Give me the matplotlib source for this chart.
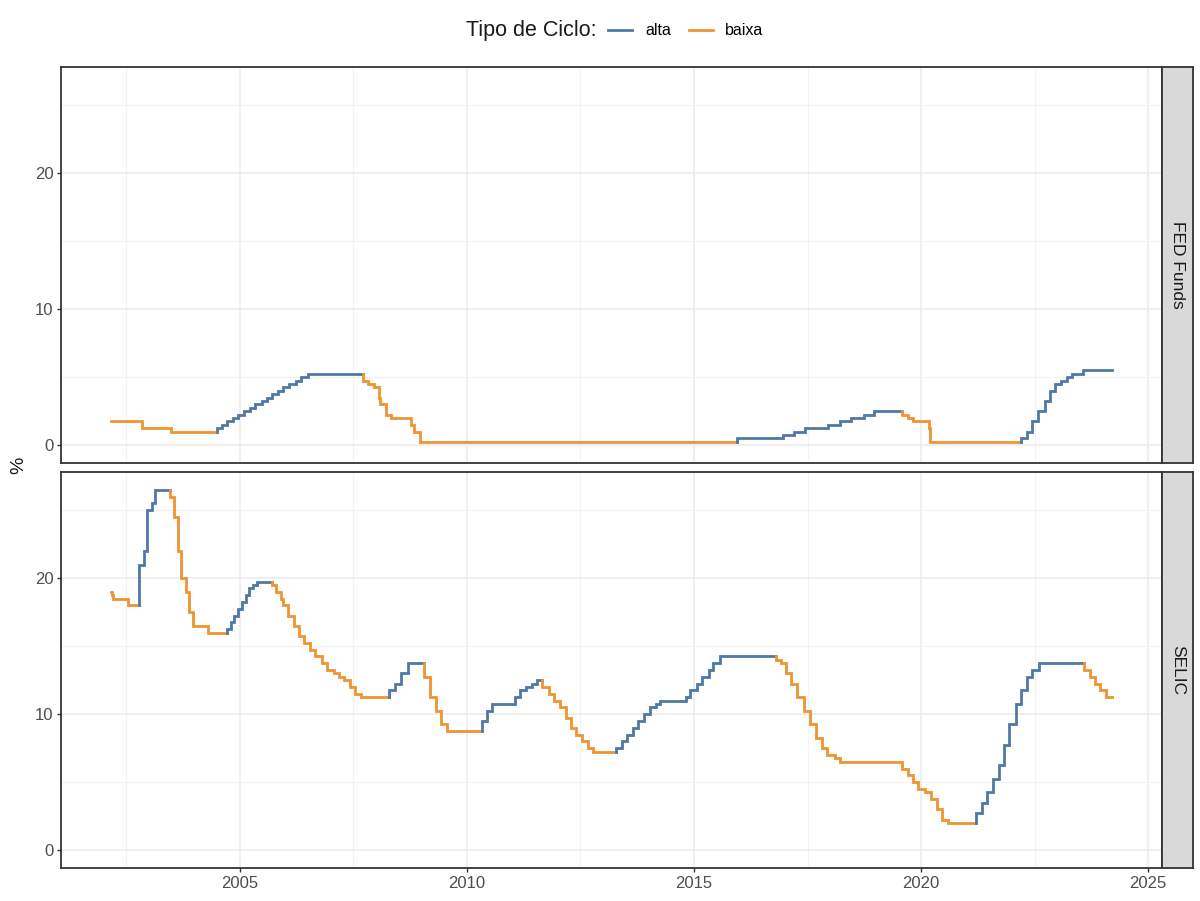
import numpy as np
import pandas as pd
import matplotlib
matplotlib.use("Agg")
import matplotlib.pyplot as plt
from matplotlib.lines import Line2D

plt.rcParams['font.family'] = ['Liberation Sans', 'DejaVu Sans']

# decision dates and target rate (% a.a.) - FED Funds (upper bound)
fed_dates = ['2002-03-01', '2002-11-06', '2003-06-25', '2004-06-30', '2004-08-10',
             '2004-09-21', '2004-11-10', '2004-12-14', '2005-02-02', '2005-03-22',
             '2005-05-03', '2005-06-30', '2005-08-09', '2005-09-20', '2005-11-01',
             '2005-12-13', '2006-01-31', '2006-03-28', '2006-05-10', '2006-06-29',
             '2007-09-18', '2007-10-31', '2007-12-11', '2008-01-22', '2008-01-30',
             '2008-03-18', '2008-04-30', '2008-10-08', '2008-10-29', '2008-12-16',
             '2015-12-16', '2016-12-14', '2017-03-15', '2017-06-14', '2017-12-13',
             '2018-03-21', '2018-06-13', '2018-09-26', '2018-12-19', '2019-07-31',
             '2019-09-18', '2019-10-30', '2020-03-03', '2020-03-15', '2022-03-16',
             '2022-05-04', '2022-06-15', '2022-07-27', '2022-09-21', '2022-11-02',
             '2022-12-14', '2023-02-01', '2023-03-22', '2023-05-03', '2023-07-26']
fed_rate = [1.75, 1.25, 1.0, 1.25, 1.5,
            1.75, 2.0, 2.25, 2.5, 2.75,
            3.0, 3.25, 3.5, 3.75, 4.0,
            4.25, 4.5, 4.75, 5.0, 5.25,
            4.75, 4.5, 4.25, 3.5, 3.0,
            2.25, 2.0, 1.5, 1.0, 0.25,
            0.5, 0.75, 1.0, 1.25, 1.5,
            1.75, 2.0, 2.25, 2.5, 2.25,
            2.0, 1.75, 1.25, 0.25, 0.5,
            1.0, 1.75, 2.5, 3.25, 4.0,
            4.5, 4.75, 5.0, 5.25, 5.5]

# SELIC meta (Copom)
selic_dates = ['2002-03-01', '2002-03-10', '2002-03-21', '2002-07-18', '2002-10-15',
               '2002-11-21', '2002-12-19', '2003-01-23', '2003-02-20', '2003-06-19',
               '2003-07-24', '2003-08-21', '2003-09-18', '2003-10-23', '2003-11-20',
               '2003-12-18', '2004-04-15', '2004-09-16', '2004-10-21', '2004-11-18',
               '2004-12-16', '2005-01-20', '2005-02-17', '2005-03-17', '2005-04-20',
               '2005-05-19', '2005-09-15', '2005-10-20', '2005-11-24', '2005-12-15',
               '2006-01-19', '2006-03-09', '2006-04-20', '2006-05-31', '2006-07-20',
               '2006-08-31', '2006-10-19', '2006-11-30', '2007-01-24', '2007-03-07',
               '2007-04-18', '2007-06-06', '2007-07-18', '2007-09-05', '2008-04-16',
               '2008-06-04', '2008-07-23', '2008-09-10', '2009-01-21', '2009-03-11',
               '2009-04-29', '2009-06-10', '2009-07-22', '2010-04-28', '2010-06-09',
               '2010-07-21', '2011-01-19', '2011-03-02', '2011-04-20', '2011-06-08',
               '2011-07-20', '2011-08-31', '2011-10-19', '2011-11-30', '2012-01-18',
               '2012-03-07', '2012-04-18', '2012-05-30', '2012-07-11', '2012-08-29',
               '2012-10-10', '2013-04-17', '2013-05-29', '2013-07-10', '2013-08-28',
               '2013-10-09', '2013-11-27', '2014-01-15', '2014-02-26', '2014-04-02',
               '2014-10-29', '2014-12-03', '2015-01-21', '2015-03-04', '2015-04-29',
               '2015-06-03', '2015-07-29', '2016-10-19', '2016-11-30', '2017-01-11',
               '2017-02-22', '2017-04-12', '2017-05-31', '2017-07-26', '2017-09-06',
               '2017-10-25', '2017-12-06', '2018-02-07', '2018-03-21', '2019-07-31',
               '2019-09-18', '2019-10-30', '2019-12-11', '2020-02-05', '2020-03-18',
               '2020-05-06', '2020-06-17', '2020-08-05', '2021-03-17', '2021-05-05',
               '2021-06-16', '2021-08-04', '2021-09-22', '2021-10-27', '2021-12-08',
               '2022-02-02', '2022-03-16', '2022-05-04', '2022-06-15', '2022-08-03',
               '2023-08-02', '2023-09-20', '2023-11-01', '2023-12-13', '2024-01-31']
selic_rate = [19.0, 18.75, 18.5, 18.0, 21.0,
              22.0, 25.0, 25.5, 26.5, 26.0,
              24.5, 22.0, 20.0, 19.0, 17.5,
              16.5, 16.0, 16.25, 16.75, 17.25,
              17.75, 18.25, 18.75, 19.25, 19.5,
              19.75, 19.5, 19.0, 18.5, 18.0,
              17.25, 16.5, 15.75, 15.25, 14.75,
              14.25, 13.75, 13.25, 13.0, 12.75,
              12.5, 12.0, 11.5, 11.25, 11.75,
              12.25, 13.0, 13.75, 12.75, 11.25,
              10.25, 9.25, 8.75, 9.5, 10.25,
              10.75, 11.25, 11.75, 12.0, 12.25,
              12.5, 12.0, 11.5, 11.0, 10.5,
              9.75, 9.0, 8.5, 8.0, 7.5,
              7.25, 7.5, 8.0, 8.5, 9.0,
              9.5, 10.0, 10.5, 10.75, 11.0,
              11.25, 11.75, 12.25, 12.75, 13.25,
              13.75, 14.25, 14.0, 13.75, 13.0,
              12.25, 11.25, 10.25, 9.25, 8.25,
              7.5, 7.0, 6.75, 6.5, 6.0,
              5.5, 5.0, 4.5, 4.25, 3.75,
              3.0, 2.25, 2.0, 2.75, 3.5,
              4.25, 5.25, 6.25, 7.75, 9.25,
              10.75, 11.75, 12.75, 13.25, 13.75,
              13.25, 12.75, 12.25, 11.75, 11.25]

end_date = '2024-03-15'
panels = ['FED Funds', 'SELIC']
cycle_colors = {'alta': '#4E79A7', 'baixa': '#EE9432'}


def dec_year(dates):
    d = pd.to_datetime(pd.Series(dates))
    n = np.where(d.dt.is_leap_year, 366, 365)
    return (d.dt.year + (d.dt.dayofyear - 1) / n).to_numpy()


def cycles(rate):
    # the cycle follows the direction of the last change
    out = ['baixa']
    for a, b in zip(rate[:-1], rate[1:]):
        out.append('alta' if b > a else 'baixa')
    return out


def draw_series(ax, dates, rate):
    x = np.append(dec_year(dates), dec_year([end_date])[0])
    v = list(rate)
    cyc = cycles(rate)
    i = 0
    while i < len(v):
        j = i
        while j + 1 < len(v) and cyc[j + 1] == cyc[i]:
            j += 1
        xs = [x[i]] if i == 0 else [x[i], x[i]]
        ys = [v[i]] if i == 0 else [v[i - 1], v[i]]
        for k in range(i, j + 1):
            xs += [x[k + 1]] if k == i else [x[k], x[k + 1]]
            ys += [v[k]] if k == i else [v[k], v[k]]
        ax.plot(xs, ys, color=cycle_colors[cyc[i]], lw=2.0,
                solid_joinstyle='miter', zorder=3)
        i = j + 1
    return x


fig = plt.figure(figsize=(12, 9.01), dpi=100)
left, pw = 0.0508, 0.9175
ph = 0.4395
bottoms = [0.4861, 0.0366]
strip_w = 0.0258

all_x = np.concatenate([dec_year(fed_dates), dec_year(selic_dates), dec_year([end_date])])
xr = all_x.max() - all_x.min()
xlim = (all_x.min() - 0.05 * xr, all_x.max() + 0.05 * xr)
ymin, ymax = 0.25, 26.5
yr = ymax - ymin
ylim = (ymin - 0.05 * yr - 0.25, ymax + 0.05 * yr)

for p, (name, dates, rate) in enumerate(zip(panels, [fed_dates, selic_dates],
                                              [fed_rate, selic_rate])):
    ax = fig.add_axes([left, bottoms[p], pw, ph])
    draw_series(ax, dates, rate)
    ax.set_xlim(xlim)
    ax.set_ylim(ylim)
    ax.set_yticks([0, 10, 20])
    ax.set_yticks([5, 15, 25], minor=True)
    ax.set_xticks([2005, 2010, 2015, 2020, 2025])
    ax.set_xticks([2002.5, 2007.5, 2012.5, 2017.5, 2022.5], minor=True)
    ax.grid(which='major', color='#EBEBEB', lw=1.1, zorder=0)
    ax.grid(which='minor', color='#F3F3F3', lw=0.8, zorder=0)
    ax.tick_params(which='major', length=3, width=1.0, color='#333333',
                   labelsize=12, labelcolor='#4D4D4D', pad=2.5)
    ax.tick_params(which='minor', length=0)
    if p == 0:
        ax.tick_params(axis='x', which='major', length=0, labelbottom=False)
    else:
        ax.set_xticklabels(['2005', '2010', '2015', '2020', '2025'])
    for s in ax.spines.values():
        s.set_color('#333333')
        s.set_linewidth(1.3)
    ax.set_axisbelow(True)

    sax = fig.add_axes([left + pw, bottoms[p], strip_w, ph])
    sax.set_facecolor('#D9D9D9')
    sax.set_xticks([])
    sax.set_yticks([])
    for s in sax.spines.values():
        s.set_color('#333333')
        s.set_linewidth(1.3)
    sax.text(0.5, 0.5, name, rotation=-90, ha='center', va='center',
             fontsize=12.5, color='#1A1A1A', transform=sax.transAxes)

fig.text(0.016, 0.484, '%', rotation=90, ha='center', va='center',
         fontsize=14, color='#1A1A1A')

fig.text(0.4975, 0.966, 'Tipo de Ciclo:', ha='right', va='center',
         fontsize=15.5, color='#1A1A1A')
handles = [Line2D([], [], color=cycle_colors[c], lw=2.0) for c in ['alta', 'baixa']]
fig.legend(handles, ['alta', 'baixa'], loc='center left', bbox_to_anchor=(0.507, 0.966),
           ncol=2, frameon=False, fontsize=11.5, handlelength=1.5, handletextpad=0.8,
           columnspacing=1.1, borderpad=0, borderaxespad=0)

fig.savefig('out.png', dpi=100)
